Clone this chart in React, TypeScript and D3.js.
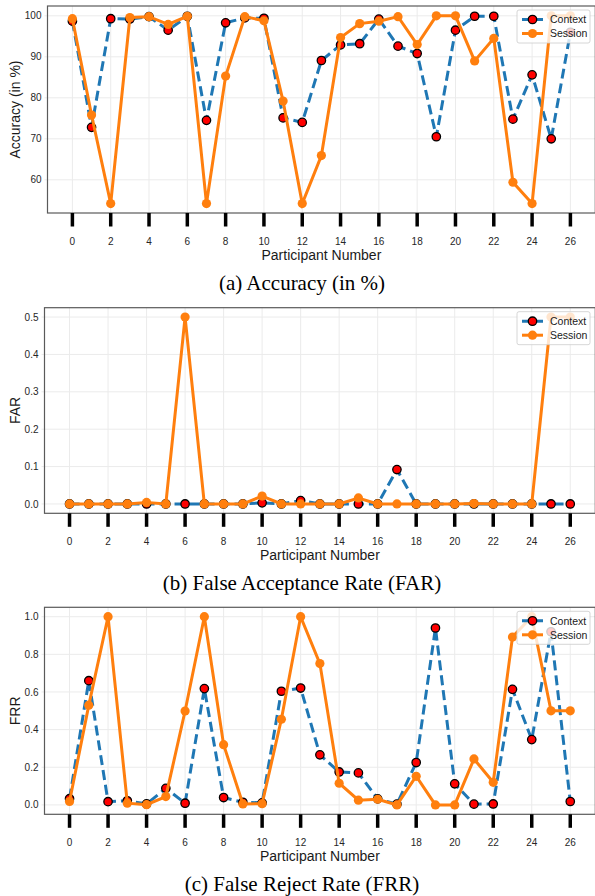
import React from "react";
import * as d3 from "d3";

const participants = d3.range(0, 27);
const xTicks = d3.range(0, 27, 2);

const accContext = [98.7, 72.8, 99.3, 99.2, 99.8, 96.5, 99.9, 74.5, 98.3, 99.5, 99.4, 75.1, 74.0, 89.1, 92.9, 93.2, 99.2, 92.6, 90.8, 70.5, 96.5, 99.9, 99.9, 74.8, 85.6, 70.0, 96.0];
const accSession = [99.3, 75.8, 54.2, 99.6, 99.8, 97.9, 99.9, 54.2, 85.3, 99.8, 98.8, 79.2, 54.2, 65.9, 94.7, 98.1, 98.7, 99.8, 93.0, 100.0, 100.0, 89.0, 94.5, 59.4, 54.2, 100.0, 100.0];

const farContext = [0, 0, 0, 0, 0, 0, 0, 0, 0, 0, 0.003, 0, 0.009, 0, 0, 0, 0, 0.092, 0, 0, 0, 0, 0, 0, 0, 0, 0];
const farSession = [0, 0, 0, 0, 0.004, 0, 0.5, 0, 0, 0, 0.021, 0, 0, 0, 0, 0.016, 0, 0, 0, 0, 0, 0.001, 0, 0, 0, 0.5, 0.5];

const frrContext = [0.033, 0.66, 0.017, 0.022, 0.005, 0.088, 0.009, 0.618, 0.039, 0.014, 0.011, 0.604, 0.621, 0.266, 0.175, 0.17, 0.032, 0.004, 0.225, 0.94, 0.112, 0.004, 0.005, 0.614, 0.347, 0.92, 0.018];
const frrSession = [0.018, 0.53, 1.0, 0.009, 0.001, 0.044, 0.499, 1.0, 0.32, 0.005, 0.006, 0.455, 1.0, 0.751, 0.115, 0.025, 0.03, 0.0, 0.152, 0.0, 0.0, 0.244, 0.12, 0.892, 1.0, 0.5, 0.5];

const accTicks = [60, 70, 80, 90, 100];
const farTicks = [0, 0.1, 0.2, 0.3, 0.4, 0.5];
const frrTicks = [0, 0.2, 0.4, 0.6, 0.8, 1.0];

const BLUE = "#1f77b4";
const ORANGE = "#ff7f0e";
const SANS = "'Liberation Sans', Arial, Helvetica, sans-serif";
const SERIF = "'Liberation Serif', 'Times New Roman', serif";

type PanelProps = {
  top: number;
  bottom: number;
  left: number;
  yDomain: [number, number];
  yTicks: number[];
  yFmt: (v: number) => string;
  yLabel: string;
  caption: string;
  context: number[];
  session: number[];
};

function Panel(p: PanelProps) {
  const right = 595.3;
  const x = d3.scaleLinear().domain([-1.3, 27.3]).range([p.left, right]);
  const y = d3.scaleLinear().domain(p.yDomain).range([p.bottom, p.top]);
  const line = d3
    .line<number>()
    .x((_, i) => x(participants[i]))
    .y((d) => y(d));
  const clipId = `clip-${Math.round(p.top)}`;
  const legX = 517;
  const legY = p.top + 4;
  return (
    <g>
      <defs>
        <clipPath id={clipId}>
          <rect x={p.left} y={p.top} width={right - p.left} height={p.bottom - p.top} />
        </clipPath>
      </defs>
      {xTicks.map((t) => (
        <line key={"gx" + t} x1={x(t)} x2={x(t)} y1={p.top} y2={p.bottom} stroke="#ebebeb" strokeWidth={1} />
      ))}
      {p.yTicks.map((t) => (
        <line key={"gy" + t} x1={p.left - 3} x2={right} y1={y(t)} y2={y(t)} stroke="#ebebeb" strokeWidth={1} />
      ))}
      <g clipPath={`url(#${clipId})`}>
        <path d={line(p.context) || ""} fill="none" stroke={BLUE} strokeWidth={3} strokeDasharray="10,5" />
        {p.context.map((v, i) => (
          <circle key={"c" + i} cx={x(participants[i])} cy={y(v)} r={4.2} fill="red" stroke="black" strokeWidth={1.3} />
        ))}
        <path d={line(p.session) || ""} fill="none" stroke={ORANGE} strokeWidth={3} />
        {p.session.map((v, i) => (
          <circle key={"s" + i} cx={x(participants[i])} cy={y(v)} r={4.6} fill={ORANGE} />
        ))}
      </g>
      <rect x={p.left} y={p.top} width={right - p.left} height={p.bottom - p.top} fill="none" stroke="#5a5a5a" strokeWidth={1.2} />
      {xTicks.map((t) => (
        <g key={"xt" + t}>
          <line x1={x(t)} x2={x(t)} y1={p.bottom} y2={p.bottom + 13.5} stroke="black" strokeWidth={3.5} />
          <text x={x(t)} y={p.bottom + 31.8} textAnchor="middle" fontSize={10} fill="#262626" fontFamily={SANS}>
            {t}
          </text>
        </g>
      ))}
      {p.yTicks.map((t) => (
        <text key={"yt" + t} x={p.left - 6} y={y(t) + 3.6} textAnchor="end" fontSize={10} fill="#262626" fontFamily={SANS}>
          {p.yFmt(t)}
        </text>
      ))}
      <text x={(p.left + right) / 2} y={p.bottom + 46.5} textAnchor="middle" fontSize={14} fill="#1a1a1a" fontFamily={SANS}>
        Participant Number
      </text>
      <text
        transform={`translate(20,${(p.top + p.bottom) / 2}) rotate(-90)`}
        textAnchor="middle"
        fontSize={14}
        fill="#1a1a1a"
        fontFamily={SANS}
      >
        {p.yLabel}
      </text>
      <rect x={legX} y={legY} width={73} height={33} rx={2} fill="white" fillOpacity={0.8} stroke="#cccccc" strokeWidth={0.8} />
      <line x1={legX + 5} x2={legX + 26} y1={legY + 9.5} y2={legY + 9.5} stroke={BLUE} strokeWidth={3} strokeDasharray="10,5" />
      <circle cx={legX + 15.5} cy={legY + 9.5} r={4.2} fill="red" stroke="black" strokeWidth={1.3} />
      <line x1={legX + 5} x2={legX + 26} y1={legY + 23.5} y2={legY + 23.5} stroke={ORANGE} strokeWidth={3} />
      <circle cx={legX + 15.5} cy={legY + 23.5} r={4.6} fill={ORANGE} />
      <text x={legX + 33} y={legY + 13.2} fontSize={10.5} fill="#1a1a1a" fontFamily={SANS}>
        Context
      </text>
      <text x={legX + 33} y={legY + 27.2} fontSize={10.5} fill="#1a1a1a" fontFamily={SANS}>
        Session
      </text>
      <text x={302} y={p.bottom + 76.5} textAnchor="middle" fontSize={21} fill="black" fontFamily={SERIF}>
        {p.caption}
      </text>
    </g>
  );
}

export default function App() {
  const f1 = d3.format(".1f");
  return (
    <div style={{ position: "absolute", left: 0, top: 0 }}>
      <svg width={595} height={896} style={{ display: "block", background: "white" }}>
        <Panel
          top={6}
          bottom={213}
          left={47.5}
          yDomain={[51.9, 102.4]}
          yTicks={accTicks}
          yFmt={(v) => String(v)}
          yLabel="Accuracy (in %)"
          caption="(a) Accuracy (in %)"
          context={accContext}
          session={accSession}
        />
        <Panel
          top={307.7}
          bottom={513.3}
          left={44.5}
          yDomain={[-0.025, 0.525]}
          yTicks={farTicks}
          yFmt={f1}
          yLabel="FAR"
          caption="(b) False Acceptance Rate (FAR)"
          context={farContext}
          session={farSession}
        />
        <Panel
          top={607.3}
          bottom={814.3}
          left={44.5}
          yDomain={[-0.05, 1.05]}
          yTicks={frrTicks}
          yFmt={f1}
          yLabel="FRR"
          caption="(c) False Reject Rate (FRR)"
          context={frrContext}
          session={frrSession}
        />
      </svg>
    </div>
  );
}
